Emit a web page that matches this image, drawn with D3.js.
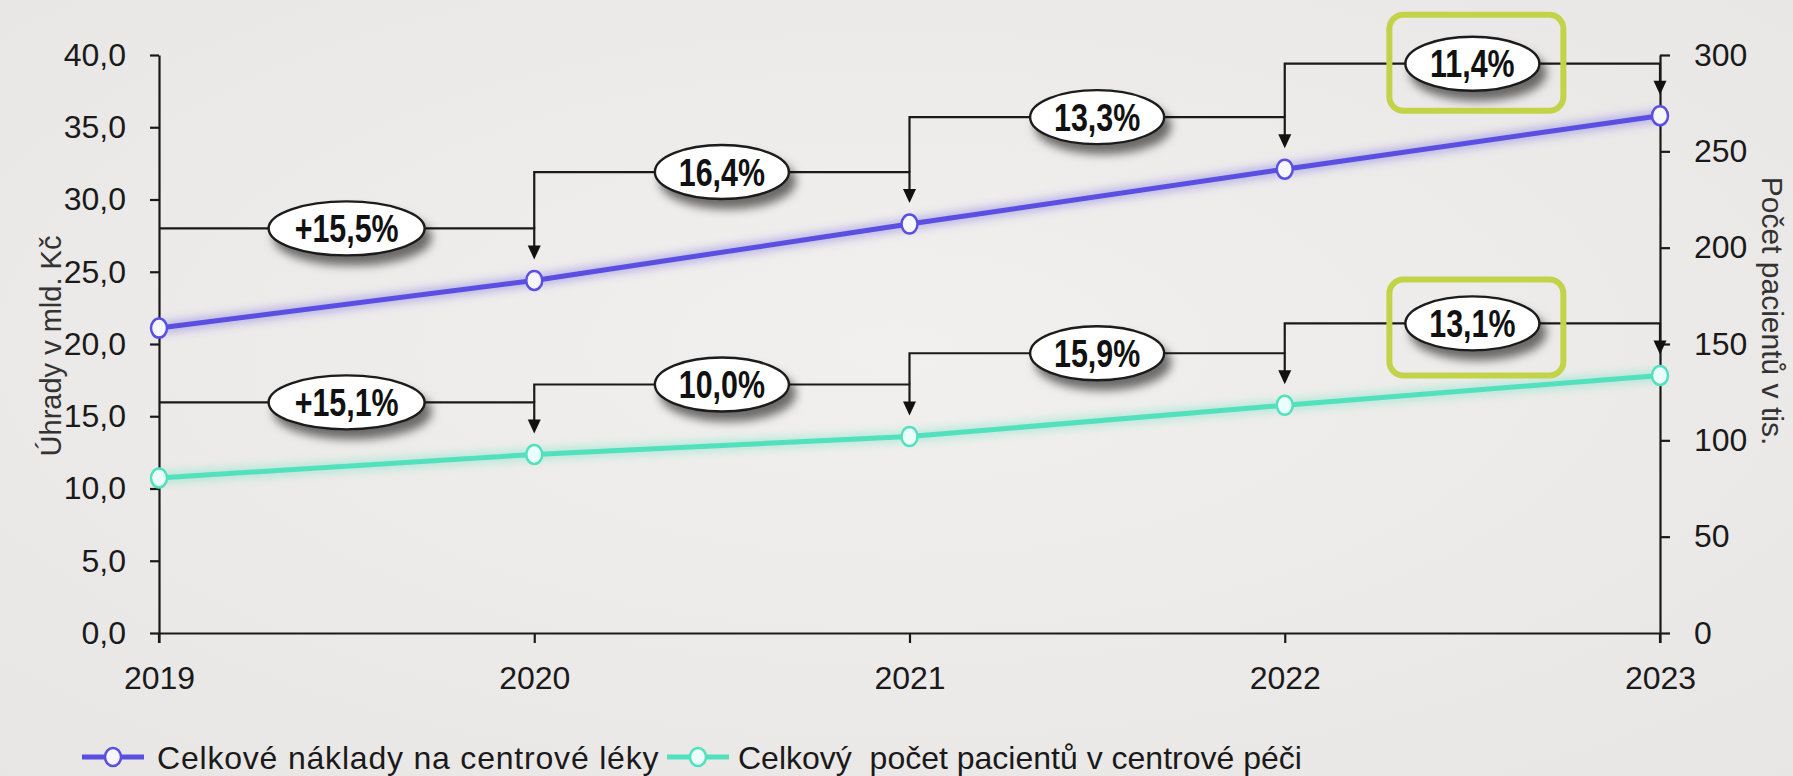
<!DOCTYPE html>
<html><head><meta charset="utf-8">
<script src="https://cdn.jsdelivr.net/npm/d3@7"></script>
<style>
html,body{margin:0;padding:0;background:#efedeb;}
svg{display:block;}
</style></head>
<body>
<svg id="chart" width="1793" height="776"></svg>
<script>
const years = ["2019","2020","2021","2022","2023"];
const costs = [21.1, 24.4, 28.3, 32.1, 35.8];          // mld. Kč
const patients = [80.5, 92.7, 102.0, 118.2, 133.7];    // tis.
const costGrowth = ["+15,5%","16,4%","13,3%","11,4%"];
const patientGrowth = ["+15,1%","10,0%","15,9%","13,1%"];
const highlighted = [3];
const leftTicks = [0,5,10,15,20,25,30,35,40];
const rightTicks = [0,50,100,150,200,250,300];
const seriesNames = ["Celkové náklady na centrové léky","Celkový  počet pacientů v centrové péči"];
const leftTitle = "Úhrady v mld. Kč";
const rightTitle = "Počet pacientů v tis.";

const W = 1793, H = 776;
const m = {left:159, right:W-1660, top:55, bottom:H-633};
const svg = d3.select("#chart");
const defs = svg.append("defs");
const bg = defs.append("radialGradient").attr("id","bg").attr("cx","50%").attr("cy","45%").attr("r","75%");
bg.append("stop").attr("offset","0%").attr("stop-color","#f2f0ee");
bg.append("stop").attr("offset","100%").attr("stop-color","#e8e6e4");
svg.append("rect").attr("width",W).attr("height",H).attr("fill","url(#bg)");
const f = defs.append("filter").attr("id","shadow").attr("x","-30%").attr("y","-30%").attr("width","170%").attr("height","190%");
f.append("feDropShadow").attr("dx",6).attr("dy",9).attr("stdDeviation",5).attr("flood-color","#000").attr("flood-opacity",0.55);
const g2 = defs.append("filter").attr("id","glow").attr("x","-50%").attr("y","-50%").attr("width","200%").attr("height","200%");
g2.append("feGaussianBlur").attr("stdDeviation",4);

const x = d3.scalePoint().domain(years).range([m.left, W-m.right]);
const yL = d3.scaleLinear().domain([0,40]).range([H-m.bottom, m.top]);
const yR = d3.scaleLinear().domain([0,300]).range([H-m.bottom, m.top]);
const fmtL = v => d3.format(".1f")(v).replace(".",",");

// Axes
const axL = svg.append("g").attr("transform",`translate(${m.left},0)`)
  .call(d3.axisLeft(yL).tickValues(leftTicks).tickFormat(fmtL).tickSize(9).tickPadding(24).tickSizeOuter(0));
const axR = svg.append("g").attr("transform",`translate(${W-m.right},0)`)
  .call(d3.axisRight(yR).tickValues(rightTicks).tickSize(10).tickPadding(24).tickSizeOuter(0));
const axB = svg.append("g").attr("transform",`translate(0,${H-m.bottom})`)
  .call(d3.axisBottom(x).tickSize(10).tickPadding(23).tickSizeOuter(0));
[axL,axR,axB].forEach(a=>{
  a.select(".domain").attr("stroke","#1a1a1a").attr("stroke-width",2.2);
  a.selectAll(".tick line").attr("stroke","#1a1a1a").attr("stroke-width",2.2);
  a.selectAll(".tick text").attr("fill","#1a1a1a").style("font-family","'Liberation Sans',Arial,sans-serif").style("font-size","32px");
});
svg.append("line").attr("x1",x(years[0])).attr("x2",x(years[0])).attr("y1",yL(0)).attr("y2",yL(0)+10).attr("stroke","#1a1a1a").attr("stroke-width",2.2);
svg.append("line").attr("x1",x(years[4])).attr("x2",x(years[4])).attr("y1",yL(0)).attr("y2",yL(0)+10).attr("stroke","#1a1a1a").attr("stroke-width",2.2);

// Axis titles
svg.append("text").attr("transform",`translate(51,${(yL(0)+yL(40))/2+2}) rotate(-90)`)
  .attr("text-anchor","middle").attr("dominant-baseline","central")
  .style("font-family","'Liberation Sans',Arial,sans-serif").style("font-size","29px").attr("fill","#333").text(leftTitle);
svg.append("text").attr("transform",`translate(1772,${(yR(0)+yR(300))/2-33}) rotate(90)`)
  .attr("text-anchor","middle").attr("dominant-baseline","central")
  .style("font-family","'Liberation Sans',Arial,sans-serif").style("font-size","30px").attr("fill","#333").text(rightTitle);

const series = [
  {vals:costs, y:yL, color:"#5a4fe0", fill:"#f6f6ff", growth:costGrowth},
  {vals:patients, y:yR, color:"#52e0bd", fill:"#eafff9", growth:patientGrowth}
];

// Lines and markers
series.forEach(s=>{
  const line = d3.line().x((d,i)=>x(years[i])).y(d=>s.y(d));
  svg.append("path").datum(s.vals).attr("d",line).attr("fill","none").attr("stroke",s.color).attr("stroke-opacity",0.35).attr("stroke-width",12).attr("filter","url(#glow)");
  svg.append("path").datum(s.vals).attr("d",line).attr("fill","none").attr("stroke",s.color).attr("stroke-width",5);
});
series.forEach(s=>{
  svg.append("g").selectAll("ellipse").data(s.vals).join("ellipse")
    .attr("cx",(d,i)=>x(years[i])).attr("cy",d=>s.y(d)).attr("rx",8).attr("ry",9.5)
    .attr("fill",s.fill).attr("stroke",s.color).attr("stroke-width",2.5);
});

// Brackets with arrows and growth labels
const OFF = 52, TIP = 21;
series.forEach((s,si)=>{
  const lvl = s.growth.map((t,k)=>s.y(s.vals[k+1]) - OFF);
  const gB = svg.append("g");
  s.growth.forEach((t,k)=>{
    const x0 = x(years[k]), x1 = x(years[k+1]);
    const tip = s.y(s.vals[k+1]) - TIP;
    const startY = k===0 ? lvl[k] : lvl[k-1];
    gB.append("path").attr("d",`M${x0},${startY}V${lvl[k]}H${x1}V${tip-12}`)
      .attr("fill","none").attr("stroke","#1a1a1a").attr("stroke-width",2.2);
    gB.append("path").attr("d",`M${x1-6.5},${tip-14}L${x1+6.5},${tip-14}L${x1},${tip}Z`).attr("fill","#111");
  });
  s.growth.forEach((t,k)=>{
    const cx = (x(years[k])+x(years[k+1]))/2, cy = lvl[k];
    const lg = gB.append("g").attr("transform",`translate(${cx},${cy})`);
    const rx = t.length>5 ? 78 : 67;
    lg.append("ellipse").attr("rx",rx).attr("ry",27).attr("fill","#fff").attr("stroke","#1a1a1a").attr("stroke-width",2.4).attr("filter","url(#shadow)");
    lg.append("text").attr("transform","scale(0.8,1)").attr("text-anchor","middle").attr("dy","0.36em")
      .style("font-family","'Liberation Sans',Arial,sans-serif").style("font-weight","bold").style("font-size","38px")
      .attr("fill","#111").text(t);
    if (highlighted.includes(k)) {
      lg.append("rect").attr("x",-83).attr("y",si===0 ? -49 : -44).attr("width",174).attr("height",96).attr("rx",14)
        .attr("fill","none").attr("stroke","#c2d34a").attr("stroke-width",6);
    }
  });
});

// Legend
const legY = 757;
const legItems = [{x:82, textX:157, ls:0.8}, {x:667, textX:738, ls:0}];
series.forEach((s,i)=>{
  const L = legItems[i];
  svg.append("line").attr("x1",L.x).attr("x2",L.x+62).attr("y1",legY).attr("y2",legY).attr("stroke",s.color).attr("stroke-width",5);
  svg.append("ellipse").attr("cx",L.x+31).attr("cy",legY).attr("rx",8).attr("ry",9).attr("fill",s.fill).attr("stroke",s.color).attr("stroke-width",2.5);
  svg.append("text").attr("x",L.textX).attr("y",legY).attr("dy","0.36em").attr("xml:space","preserve")
    .style("font-family","'Liberation Sans',Arial,sans-serif").style("font-size","32px").style("white-space","pre")
    .style("letter-spacing",L.ls+"px")
    .attr("fill","#1a1a1a").text(seriesNames[i]);
});
</script>
</body></html>
